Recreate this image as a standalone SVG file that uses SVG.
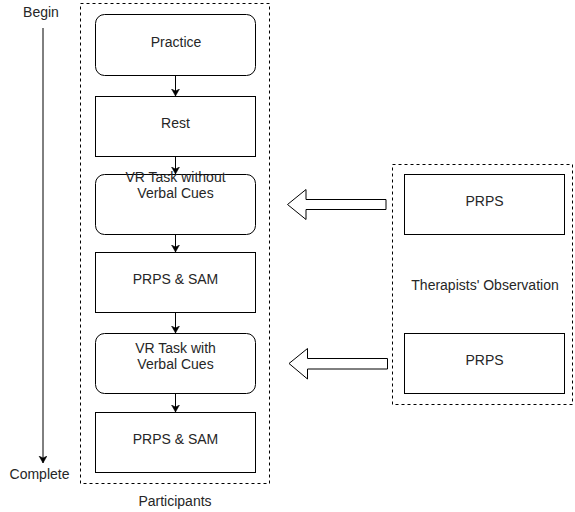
<svg xmlns="http://www.w3.org/2000/svg" width="575" height="512" viewBox="0 0 575 512">
<style>
text{font-family:"Liberation Sans",Arial,sans-serif;font-size:14px;fill:#262626;text-anchor:middle}
.box{fill:#fff;stroke:#000;stroke-width:1}
.dash{fill:none;stroke:#000;stroke-width:1;stroke-dasharray:3 3}
.conn{fill:none;stroke:#000;stroke-width:1}
.big{fill:#fff;stroke:#000;stroke-width:1}
</style>
<defs>
<marker id="ah" markerWidth="10" markerHeight="10" refX="7" refY="4" orient="auto" markerUnits="userSpaceOnUse">
<path d="M0,0 L7,4 L0,8 L2,4 Z" fill="#000" stroke="#000" stroke-width="0.5"/>
</marker>
</defs>
<rect width="575" height="512" fill="#fff"/>
<g id="participants">
<rect class="dash" x="80.5" y="3.5" width="189" height="480"/>
<text x="175" y="506">Participants</text>
</g>
<g id="observation">
<rect class="dash" x="392.5" y="164.5" width="180" height="240"/>
<text x="485" y="289.5">Therapists' Observation</text>
</g>
<g id="timeline">
<text x="41" y="17">Begin</text>
<text x="39.5" y="479">Complete</text>
</g>
<g id="practice"><rect class="box" x="95.5" y="14.5" width="160" height="61" rx="9"/><text x="176" y="47">Practice</text></g>
<g id="rest"><rect class="box" x="95.5" y="96.5" width="160" height="60"/><text x="175.5" y="127.5">Rest</text></g>
<g id="vr-without"><rect class="box" x="95.5" y="174.5" width="160" height="60" rx="9"/><text x="175.5" y="181.5">VR Task without</text><text x="175.5" y="197.5">Verbal Cues</text></g>
<g id="prps-sam-1"><rect class="box" x="95.5" y="252.5" width="160" height="60"/><text x="175.5" y="283.5">PRPS &amp; SAM</text></g>
<g id="vr-with"><rect class="box" x="95.5" y="333.5" width="160" height="60" rx="9"/><text x="175.5" y="352.5">VR Task with</text><text x="175.5" y="369">Verbal Cues</text></g>
<g id="prps-sam-2"><rect class="box" x="95.5" y="412.5" width="160" height="60"/><text x="175.5" y="443.5">PRPS &amp; SAM</text></g>
<g id="prps-1"><rect class="box" x="404.5" y="174.5" width="160" height="60"/><text x="484.5" y="205.5">PRPS</text></g>
<g id="prps-2"><rect class="box" x="404.5" y="333.5" width="160" height="60"/><text x="484.5" y="364.5">PRPS</text></g>
<g id="connectors">
<line class="conn" x1="43" y1="28" x2="43" y2="463" marker-end="url(#ah)"/>
<line class="conn" x1="175.5" y1="76" x2="175.5" y2="96" marker-end="url(#ah)"/>
<line class="conn" x1="175.5" y1="157" x2="175.5" y2="174" marker-end="url(#ah)"/>
<line class="conn" x1="175.5" y1="235" x2="175.5" y2="252" marker-end="url(#ah)"/>
<line class="conn" x1="175.5" y1="313" x2="175.5" y2="333" marker-end="url(#ah)"/>
<line class="conn" x1="175.5" y1="394" x2="175.5" y2="412" marker-end="url(#ah)"/>
<path class="big" d="M386,199.5 L306,199.5 L306,189.5 L287.5,204.5 L306,219.5 L306,209.5 L386,209.5 Z"/>
<path class="big" d="M387.5,358.5 L307.5,358.5 L307.5,348.5 L289,363.5 L307.5,379 L307.5,369 L387.5,369 Z"/>
</g>
</svg>
